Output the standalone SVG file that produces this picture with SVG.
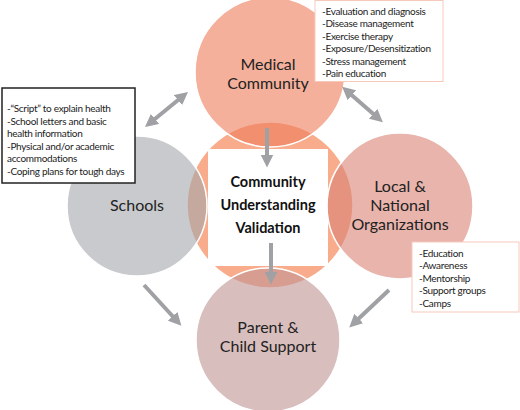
<svg xmlns="http://www.w3.org/2000/svg" width="520" height="410" viewBox="0 0 520 410">
<defs>
<style>
.c{stroke:#fff;stroke-width:1.5;fill-opacity:0.6}
.lbl{font-family:Lato,"Liberation Sans",sans-serif;font-size:16px;fill:#222;text-anchor:middle}
.ctr{font-family:Lato,"Liberation Sans",sans-serif;font-size:14.5px;font-weight:bold;fill:#111;text-anchor:middle}
.sm{font-family:Lato,"Liberation Sans",sans-serif;font-size:10px;letter-spacing:-0.3px;fill:#222}
.ar{stroke:#9fa1a4;stroke-width:4;fill:none}
</style>
<marker id="ah" viewBox="0 0 10 10" refX="5" refY="5" markerWidth="13" markerHeight="13" markerUnits="userSpaceOnUse" orient="auto-start-reverse">
<path d="M0,0 L10,5 L0,10 Z" fill="#9fa1a4"/>
</marker>
</defs>
<g id="center">
<circle class="c" cx="270" cy="205" r="83" fill="#f3753f" stroke="none"/>
<rect x="208" y="149" width="120" height="117" fill="#fff"/>
<text class="ctr" x="268" y="187">Community</text>
<text class="ctr" x="268" y="210">Understanding</text>
<text class="ctr" x="268" y="233">Validation</text>
</g>
<g id="medical">
<circle class="c" cx="270" cy="72" r="75" fill="#ee7b5a"/>
<text class="lbl" x="268" y="70">Medical</text>
<text class="lbl" x="268" y="89">Community</text>
</g>
<g id="schools">
<circle class="c" cx="137" cy="206" r="70" fill="#a3a7ac"/>
<text class="lbl" x="137" y="211">Schools</text>
</g>
<g id="local">
<circle class="c" cx="400" cy="206" r="73" fill="#d98275"/>
<text class="lbl" x="400" y="192">Local &amp;</text>
<text class="lbl" x="400" y="211">National</text>
<text class="lbl" x="400" y="230">Organizations</text>
</g>
<g id="parent">
<circle class="c" cx="268" cy="340" r="72" fill="#c09393"/>
<text class="lbl" x="268" y="333">Parent &amp;</text>
<text class="lbl" x="268" y="352">Child Support</text>
</g>
<g id="schools-box">
<rect x="2" y="88" width="133" height="95" fill="#fff" stroke="#222" stroke-width="1.5"/>
<text class="sm" x="7" y="112">-“Script” to explain health</text>
<text class="sm" x="7" y="125">-School letters and basic</text>
<text class="sm" x="7" y="137">health information</text>
<text class="sm" x="7" y="150">-Physical and/or academic</text>
<text class="sm" x="7" y="162">accommodations</text>
<text class="sm" x="7" y="175">-Coping plans for tough days</text>
</g>
<g id="medical-box">
<rect x="315" y="0.5" width="128" height="81" fill="#fff" stroke="#f6c9bb" stroke-width="1"/>
<text class="sm" x="322" y="15">-Evaluation and diagnosis</text>
<text class="sm" x="322" y="27">-Disease management</text>
<text class="sm" x="322" y="40">-Exercise therapy</text>
<text class="sm" x="322" y="52">-Exposure/Desensitization</text>
<text class="sm" x="322" y="65">-Stress management</text>
<text class="sm" x="322" y="77">-Pain education</text>
</g>
<g id="local-box">
<rect x="412" y="242" width="107" height="70" fill="#fff" stroke="#f6c9bb" stroke-width="1"/>
<text class="sm" x="419" y="257">-Education</text>
<text class="sm" x="419" y="269">-Awareness</text>
<text class="sm" x="419" y="282">-Mentorship</text>
<text class="sm" x="419" y="294">-Support groups</text>
<text class="sm" x="419" y="307">-Camps</text>
</g>
<g id="connectors">
<line class="ar" x1="150" y1="123" x2="183" y2="96" marker-start="url(#ah)" marker-end="url(#ah)"/>
<line class="ar" x1="347" y1="91" x2="378" y2="118" marker-start="url(#ah)" marker-end="url(#ah)"/>
<line class="ar" x1="267" y1="128" x2="267" y2="161" marker-end="url(#ah)"/>
<line class="ar" x1="271" y1="243" x2="271" y2="278" marker-end="url(#ah)"/>
<line class="ar" x1="144" y1="285" x2="177" y2="321" marker-end="url(#ah)"/>
<line class="ar" x1="389" y1="290" x2="354" y2="323" marker-end="url(#ah)"/>
</g>
</svg>
